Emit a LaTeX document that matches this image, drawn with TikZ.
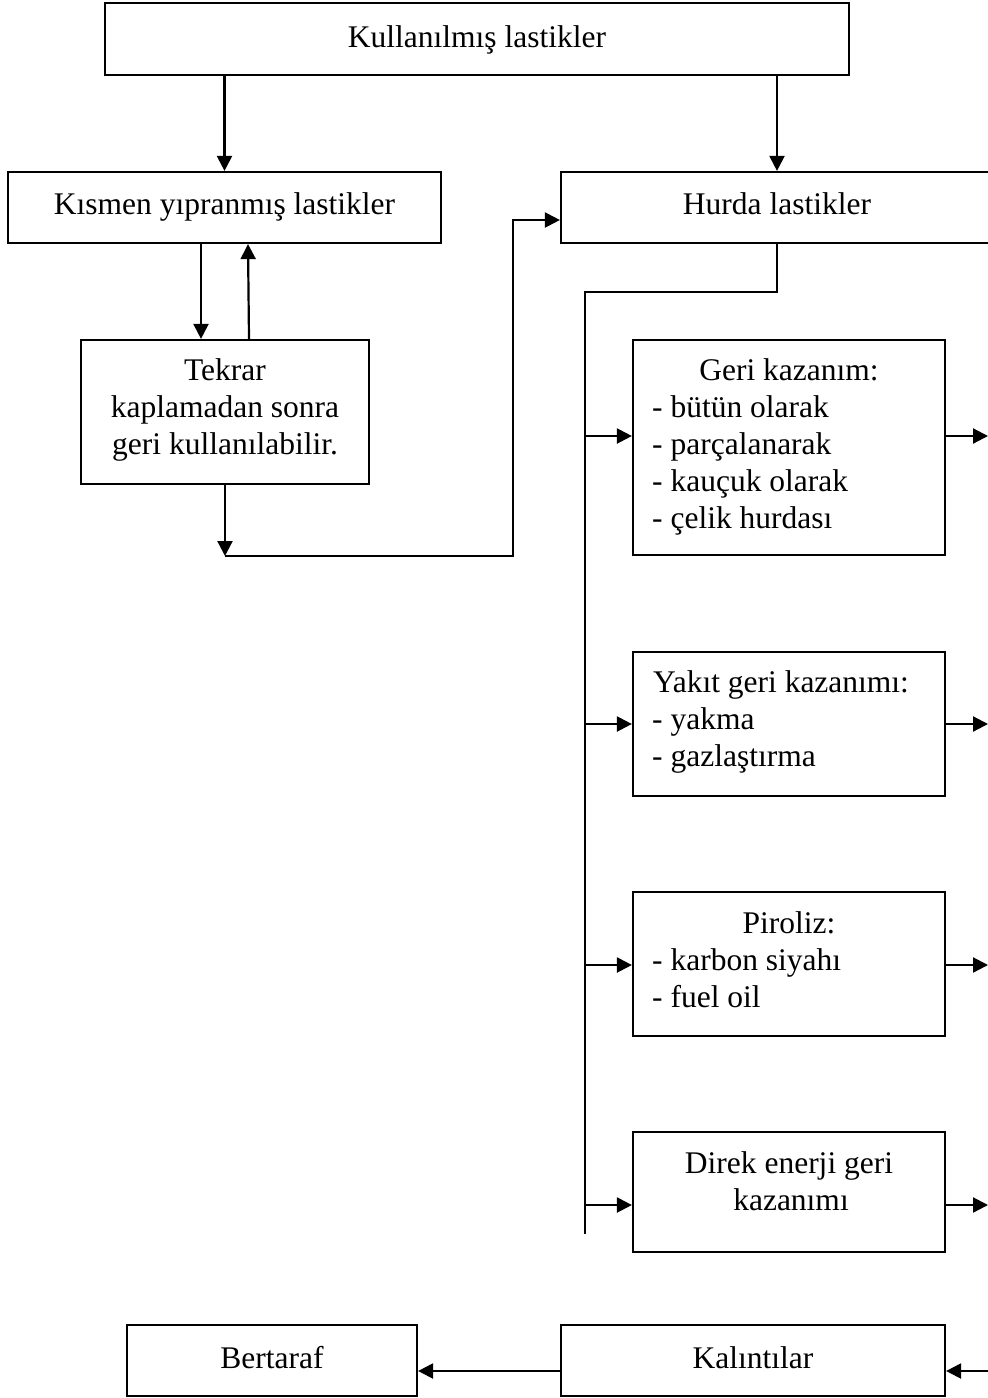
\documentclass[tikz,border=0pt]{standalone}
\usepackage{fontspec}
\setmainfont{Liberation Serif}
\usetikzlibrary{arrows.meta}
\begin{document}
\begin{tikzpicture}[x=1pt,y=-1pt,
  box/.style={draw,line width=2.2pt,inner sep=0pt,anchor=center},
  txt/.style={inner sep=0pt,font=\fontsize{31.5}{37}\selectfont},
  conn/.style={line width=2.2pt},
  arr/.style={line width=2.2pt,-{Triangle[length=15pt,width=15pt]}}]
\useasboundingbox (0,0) rectangle (988,1398);
% boxes
\node[box,minimum width=744pt,minimum height=72pt] (top) at (477,39) {};
\node[box,minimum width=433pt,minimum height=71pt] (kis) at (224.5,207.5) {};
\node[box,minimum width=445pt,minimum height=71pt] (hur) at (783.5,207.5) {};
\node[box,minimum width=288pt,minimum height=144pt] (tek) at (225,412) {};
\node[box,minimum width=312pt,minimum height=215pt] (geri) at (789,447.5) {};
\node[box,minimum width=312pt,minimum height=144pt] (yak) at (789,724) {};
\node[box,minimum width=312pt,minimum height=144pt] (pir) at (789,964) {};
\node[box,minimum width=312pt,minimum height=120pt] (dir) at (789,1192) {};
\node[box,minimum width=290pt,minimum height=71pt] (ber) at (272,1360.5) {};
\node[box,minimum width=384pt,minimum height=71pt] (kal) at (753,1360.5) {};
% texts
\node[txt,anchor=base] (ttop) at (477,47) {Kullanılmış lastikler};
\node[txt,anchor=base] (tkis) at (224.5,214) {Kısmen yıpranmış lastikler};
\node[txt,anchor=base] (thur) at (777,214) {Hurda lastikler};
\node[txt,anchor=base] (ttek1) at (225,380) {Tekrar};
\node[txt,anchor=base] (ttek2) at (225,417) {kaplamadan sonra};
\node[txt,anchor=base] (ttek3) at (225,454) {geri kullanılabilir.};
\node[txt,anchor=base] (tgeri) at (789,380) {Geri kazanım:};
\node[txt,anchor=base west] (tgeri1) at (652,417) {- bütün olarak};
\node[txt,anchor=base west] (tgeri2) at (652,454) {- parçalanarak};
\node[txt,anchor=base west] (tgeri3) at (652,491) {- kauçuk olarak};
\node[txt,anchor=base west] (tgeri4) at (652,528) {- çelik hurdası};
\node[txt,anchor=base west] (tyak) at (653,692) {Yakıt geri kazanımı:};
\node[txt,anchor=base west] (tyak1) at (652,729) {- yakma};
\node[txt,anchor=base west] (tyak2) at (652,766) {- gazlaştırma};
\node[txt,anchor=base] (tpir) at (789,933) {Piroliz:};
\node[txt,anchor=base west] (tpir1) at (652,970) {- karbon siyahı};
\node[txt,anchor=base west] (tpir2) at (652,1007) {- fuel oil};
\node[txt,anchor=base] (tdir1) at (789,1173) {Direk enerji geri};
\node[txt,anchor=base] (tdir2) at (791,1210) {kazanımı};
\node[txt,anchor=base] (tber) at (272,1368) {Bertaraf};
\node[txt,anchor=base] (tkal) at (753,1368) {Kalıntılar};
% connectors
\draw[arr] (top.south -| kis) -- (kis.north);
\draw[arr] (top.south -| thur) -- (kis.north -| thur);
\draw[arr] ([xshift=-23.5pt]kis.south) -- ([xshift=-24pt]tek.north);
\draw[arr] ([xshift=24pt]tek.north) -- ([xshift=23.5pt]kis.south);
\coordinate (c1) at (225,556);
\coordinate (c2) at (513,556);
\coordinate (c3) at (513,220);
\draw[arr] (tek.south) -- (c1);
\draw[arr] (c1) -- (c2) -- (c3) -- (c3 -| hur.west);
\coordinate (h1) at (777,292);
\coordinate (h2) at (585,292);
\coordinate (h3) at (585,1234);
\draw[conn] (kis.south -| thur) -- (h1) -- (h2) -- (h3);
\draw[arr] (h2 |- 0,436) -- (geri.west |- 0,436);
\draw[arr] (h2 |- 0,724) -- (yak.west);
\draw[arr] (h2 |- 0,965) -- (pir.west |- 0,965);
\draw[arr] (h2 |- 0,1205) -- (dir.west |- 0,1205);
\coordinate (r1) at (988,436);
\coordinate (r2) at (988,724);
\coordinate (r3) at (988,965);
\coordinate (r4) at (988,1205);
\coordinate (r5) at (988,1371);
\draw[arr] (geri.east |- r1) -- (r1);
\draw[arr] (yak.east) -- (r2);
\draw[arr] (pir.east |- r3) -- (r3);
\draw[arr] (dir.east |- r4) -- (r4);
\draw[arr] (r5) -- (kal.east |- r5);
\draw[arr] (kal.west |- r5) -- (ber.east |- r5);
\end{tikzpicture}
\end{document}
